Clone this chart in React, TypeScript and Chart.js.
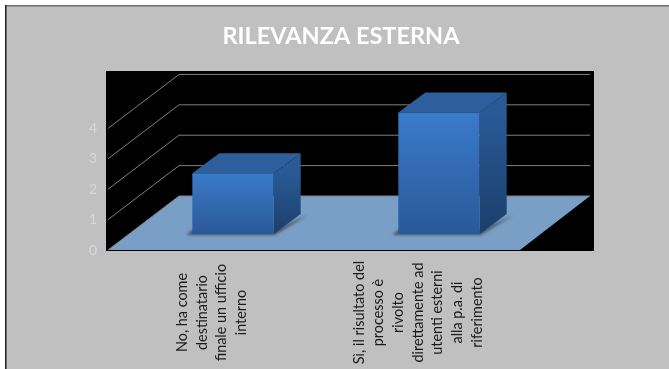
import React, { useEffect, useRef } from "react";
import { Chart, registerables } from "chart.js";

Chart.register(...registerables);

const titleText = "RILEVANZA ESTERNA";
const categories: string[][] = [
  ["No, ha come", "destinatario", "finale un ufficio", "interno"],
  ["Sì, il risultato del", "processo è", "rivolto", "direttamente ad", "utenti esterni", "alla p.a. di", "riferimento"],
];
const values: number[] = [2, 4];
const gridValues: number[] = [1, 2, 3, 4];
const axisMax = 5.89;
const FONT = "Lato, 'Open Sans', sans-serif";

// Oblique projection of the fake 3D box
const WALL_DX = 71, WALL_DY = 54, WALL_EXTRA_RIGHT = 74;
const BAR_DX = 27, BAR_DY = 20, BAR_SHIFT_X = 22, BAR_SHIFT_Y = 16;
const LABEL_LINE = 19.7, LABEL_CENTER_Y = 312.5, LABEL_NUDGE_X = 1;

const poly = (ctx: CanvasRenderingContext2D, pts: number[][], fill: string | CanvasGradient) => {
  ctx.beginPath();
  pts.forEach(([x, y], i) => (i ? ctx.lineTo(x, y) : ctx.moveTo(x, y)));
  ctx.closePath();
  ctx.fillStyle = fill;
  ctx.fill();
};

const scene = {
  id: "scene",
  beforeDraw(chart: any) {
    const { ctx, chartArea: a, scales } = chart;
    const y = scales.y;
    ctx.save();
    // frame
    ctx.fillStyle = "#c0c0c0";
    ctx.fillRect(5, 5, chart.width - 5, chart.height - 5);
    ctx.fillStyle = "#6e6e6e";
    ctx.fillRect(5, 5, chart.width - 5, 1.5);
    ctx.fillStyle = "#202020";
    ctx.fillRect(5, 5, 1.5, chart.height - 5);
    // black plot
    ctx.fillStyle = "#000";
    ctx.fillRect(a.left - 2, a.top, a.right - a.left + WALL_EXTRA_RIGHT + 2, a.bottom - a.top + 1);
    // floor
    const b = y.getPixelForValue(0);
    poly(ctx, [
      [a.left, b],
      [a.left + WALL_DX, b - WALL_DY],
      [a.right + WALL_DX - 1, b - WALL_DY],
      [a.right, b],
    ], "#7a9fc6");
    // grid
    ctx.strokeStyle = "#808080";
    ctx.lineWidth = 1;
    gridValues.forEach((v) => {
      const py = y.getPixelForValue(v);
      ctx.beginPath();
      ctx.moveTo(a.left, py);
      ctx.lineTo(a.left + WALL_DX, py - WALL_DY);
      ctx.lineTo(a.right + WALL_DX - 1, py - WALL_DY);
      ctx.stroke();
    });
    ctx.beginPath();
    ctx.moveTo(a.left, b);
    ctx.lineTo(a.left + WALL_DX, b - WALL_DY);
    ctx.lineTo(a.right + WALL_DX - 1, b - WALL_DY);
    ctx.stroke();
    ctx.restore();
  },
  afterDatasetsDraw(chart: any) {
    const { ctx } = chart;
    const meta = chart.getDatasetMeta(0);
    ctx.save();
    meta.data.forEach((bar: any) => {
      const l = bar.x - bar.width / 2 + BAR_SHIFT_X;
      const r = bar.x + bar.width / 2 + BAR_SHIFT_X;
      const t = bar.y - BAR_SHIFT_Y;
      const bot = bar.base - BAR_SHIFT_Y;
      // shadow on the floor
      ctx.save();
      ctx.filter = "blur(1.5px)";
      poly(ctx, [
        [l - 6, bot + 1],
        [r + 1, bot + 1],
        [r + BAR_DX + 7, bot - BAR_DY + 1],
        [r, bot - 4],
        [l, bot - 4],
      ], "rgba(40,40,40,0.65)");
      ctx.restore();
      // top
      poly(ctx, [
        [l, t],
        [l + BAR_DX, t - BAR_DY],
        [r + BAR_DX, t - BAR_DY],
        [r, t],
      ], "#2c5f9c");
      // side
      const side = ctx.createLinearGradient(0, t, 0, bot);
      side.addColorStop(0, "#295a96");
      side.addColorStop(1, "#1c3e6a");
      poly(ctx, [
        [r, t],
        [r + BAR_DX, t - BAR_DY],
        [r + BAR_DX, bot - BAR_DY],
        [r, bot],
      ], side);
      // front
      const front = ctx.createLinearGradient(0, t, 0, bot);
      front.addColorStop(0, "#3a7bcb");
      front.addColorStop(0.5, "#3269b0");
      front.addColorStop(1, "#28599a");
      poly(ctx, [
        [l, t],
        [r, t],
        [r, bot],
        [l, bot],
      ], front);
    });
    // category labels: rotated, lines centred on each other
    const x = chart.scales.x;
    ctx.fillStyle = "#1a1a1a";
    ctx.font = `14.4px ${FONT}`;
    ctx.textAlign = "center";
    ctx.textBaseline = "middle";
    categories.forEach((lines, i) => {
      const px = x.getPixelForTick(i) + LABEL_NUDGE_X;
      lines.forEach((line, j) => {
        ctx.save();
        ctx.translate(px + (j - (lines.length - 1) / 2) * LABEL_LINE, LABEL_CENTER_Y);
        ctx.rotate(-Math.PI / 2);
        ctx.fillText(line, 0, 0);
        ctx.restore();
      });
    });
    ctx.restore();
  },
};

export default function App() {
  const ref = useRef<HTMLCanvasElement>(null);
  useEffect(() => {
    const chart = new Chart(ref.current!, {
      type: "bar",
      data: {
        labels: categories,
        datasets: [
          {
            data: values,
            backgroundColor: "rgba(0,0,0,0)",
            borderWidth: 0,
            barPercentage: 0.395,
            categoryPercentage: 1,
          },
        ],
      },
      plugins: [scene],
      options: {
        animation: false,
        responsive: false,
        layout: { padding: { left: 13, right: 0, top: 0, bottom: 0 } },
        plugins: {
          legend: { display: false },
          tooltip: { enabled: false },
          title: {
            display: true,
            text: titleText,
            color: "#ffffff",
            font: { family: FONT, size: 23.5, weight: "bold" },
            padding: { top: 22, bottom: 20.8 },
          },
        },
        scales: {
          x: {
            grid: { display: false },
            border: { display: false },
            afterFit: (s: any) => {
              s.height = 119;
            },
            ticks: { display: false, autoSkip: false },
          },
          y: {
            min: 0,
            max: axisMax,
            grid: { display: false },
            border: { display: false },
            afterFit: (s: any) => {
              s.width = 95;
            },
            ticks: {
              stepSize: 1,
              color: "#d9d9d9",
              font: { family: FONT, size: 14 },
              padding: 3,
              callback: (v: any) => (Number(v) <= 4 ? String(v) : ""),
            },
          },
          spacer: {
            position: "right",
            grid: { display: false },
            border: { display: false },
            ticks: { display: false },
            afterFit: (s: any) => {
              s.width = 149;
            },
          },
        },
      },
    } as any);
    return () => chart.destroy();
  }, []);
  return (
    <div style={{ position: "fixed", left: 0, top: 0, width: 669, height: 369, background: "#fff" }}>
      <canvas ref={ref} width={669} height={369} style={{ display: "block" }} />
    </div>
  );
}
